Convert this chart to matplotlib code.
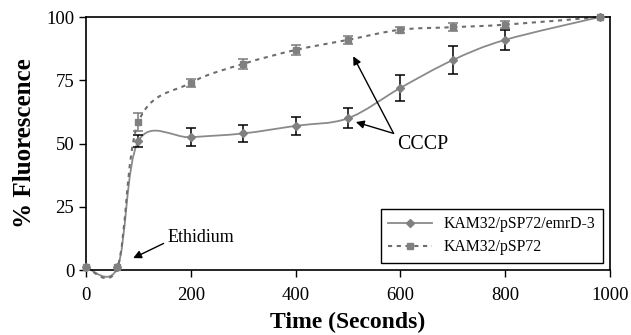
import matplotlib.pyplot as plt
from matplotlib.path import Path
from matplotlib.patches import PathPatch
from matplotlib.lines import Line2D

plt.rcParams['font.family'] = ['Liberation Serif', 'DejaVu Serif']

time_s = [0, 60, 100, 200, 300, 400, 500, 600, 700, 800, 980]
emrd_vals = [1, 1, 51, 52.5, 54, 57, 60, 72, 83, 91, 100]
emrd_err = [0, 0, 2.5, 3.5, 3.5, 3.5, 4, 5, 5.5, 4, 0]
psp_vals = [1, 1, 58.5, 74, 81.5, 87, 91, 95, 96, 97, 100]
psp_err = [0, 0, 3.5, 1.5, 2, 2, 1.5, 1.2, 1.5, 1.5, 0]

labels = ['KAM32/pSP72/emrD-3', 'KAM32/pSP72']


def smooth_path(xs, ys):
    # Excel-style smoothed line: cubic Bezier through the points
    pts = list(zip(xs, ys))
    verts = [pts[0]]
    codes = [Path.MOVETO]
    n = len(pts)
    for i in range(n - 1):
        p0 = pts[i - 1] if i > 0 else pts[i]
        p1 = pts[i]
        p2 = pts[i + 1]
        p3 = pts[i + 2] if i + 2 < n else pts[i + 1]
        c1 = (p1[0] + (p2[0] - p0[0]) / 6, p1[1] + (p2[1] - p0[1]) / 6)
        c2 = (p2[0] - (p3[0] - p1[0]) / 6, p2[1] - (p3[1] - p1[1]) / 6)
        verts += [c1, c2, p2]
        codes += [Path.CURVE4] * 3
    return Path(verts, codes)


fig = plt.figure(figsize=(6.31, 3.35), dpi=100)
ax = fig.add_axes([0.1363, 0.194, 0.8304, 0.755])

line_col = '#8a8a8a'
dot_col = '#6e6e6e'

ax.add_patch(PathPatch(smooth_path(time_s, emrd_vals), fill=False,
                       edgecolor=line_col, lw=1.3, clip_on=False, zorder=2))
ax.add_patch(PathPatch(smooth_path(time_s, psp_vals), fill=False,
                       edgecolor=dot_col, lw=1.5, ls=(0, (2, 2.2)),
                       clip_on=False, zorder=2))

ax.errorbar(time_s[2:-1], emrd_vals[2:-1], yerr=emrd_err[2:-1], fmt='none',
            ecolor='black', elinewidth=1.1, capsize=3.5, capthick=1.1, zorder=3)
ax.errorbar(time_s[2:-1], psp_vals[2:-1], yerr=psp_err[2:-1], fmt='none',
            ecolor='#7a7a7a', elinewidth=1.1, capsize=3.5, capthick=1.1, zorder=3)

ax.plot(time_s, psp_vals, 's', color='#808080', ms=4, clip_on=False, zorder=4)
ax.plot(time_s, emrd_vals, 'D', color='#808080', ms=4.5, clip_on=False, zorder=4)

ax.set_xlim(0, 1000)
ax.set_ylim(0, 100)
ax.set_xticks([0, 200, 400, 600, 800, 1000])
ax.set_yticks([0, 25, 50, 75, 100])
ax.tick_params(direction='out', length=5, width=1, labelsize=13.5, colors='black')
ax.tick_params(axis='x', pad=7)
for s in ax.spines.values():
    s.set_linewidth(1.2)

ax.set_xlabel('Time (Seconds)', fontsize=17, fontweight='bold', labelpad=6)
ax.set_ylabel('% Fluorescence', fontsize=18, fontweight='bold', labelpad=7)

arrow = dict(arrowstyle='-|>', color='black', lw=1, mutation_scale=12,
             shrinkA=0, shrinkB=0)
ax.annotate('', xy=(90, 4.7), xytext=(148, 10.5), arrowprops=arrow)
ax.text(155, 13, 'Ethidium', fontsize=13, va='center', ha='left')

ax.annotate('', xy=(510, 84.5), xytext=(587, 54), arrowprops=arrow)
ax.annotate('', xy=(515, 58.5), xytext=(587, 54), arrowprops=arrow)
ax.text(642, 49.5, 'CCCP', fontsize=14.3, va='center', ha='center')

handles = [
    Line2D([], [], color=line_col, lw=1.3, marker='D', ms=4.5,
           markerfacecolor='#808080', markeredgecolor='#808080'),
    Line2D([], [], color=dot_col, lw=1.5, ls=(0, (2, 2.2)), marker='s', ms=4,
           markerfacecolor='#808080', markeredgecolor='#808080'),
]
leg = ax.legend(handles, labels, loc='lower right', fontsize=11.3,
                fancybox=False, edgecolor='black', framealpha=1,
                bbox_to_anchor=(0.9866, 0.028), borderaxespad=0,
                handlelength=2.8, handletextpad=0.7,
                borderpad=0.5, labelspacing=0.42)
leg.get_frame().set_linewidth(1)

fig.savefig('out.png', dpi=100)
